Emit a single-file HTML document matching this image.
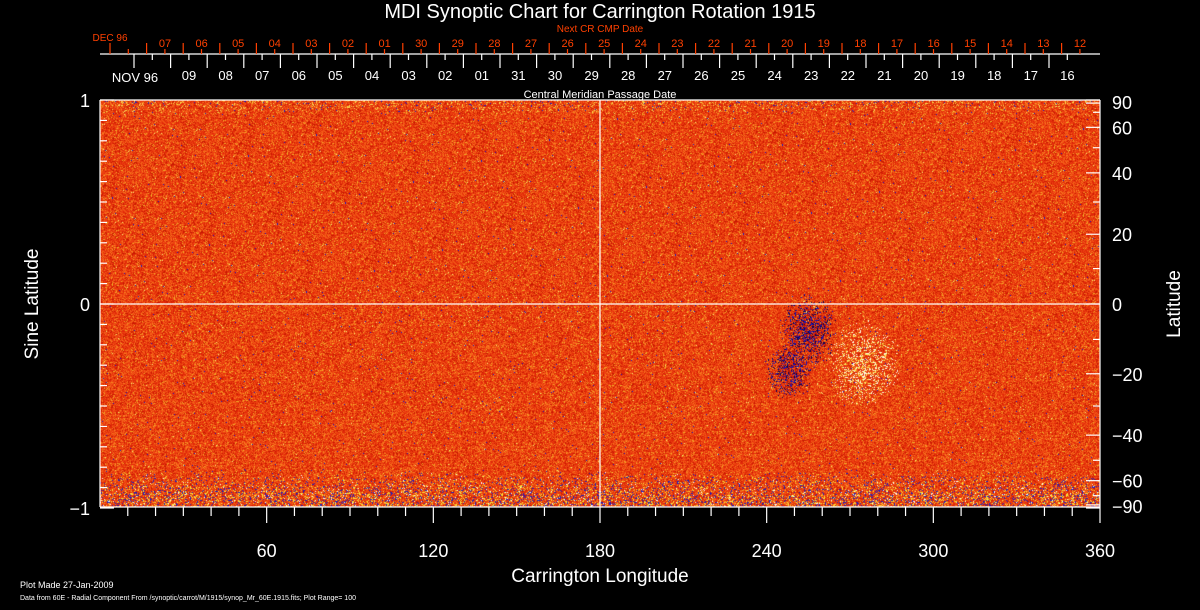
<!DOCTYPE html>
<html><head><meta charset="utf-8"><style>
html,body{margin:0;padding:0;background:#000;width:1200px;height:610px;overflow:hidden}
#wrap{position:relative;width:1200px;height:610px;font-family:"Liberation Sans",sans-serif}
canvas{position:absolute;left:100px;top:100px}
svg{position:absolute;left:0;top:0}
</style></head><body>
<div id="wrap">
<canvas id="map" width="1000" height="407"></canvas>
<svg id="ax" width="1200" height="610"></svg>
</div>
<script>
// data arrays
const lonTicks=[60,120,180,240,300,360];
const latTicks=[90,60,40,20,0,-20,-40,-60,-90];
const sineTicks=[1,0,-1];
const cmpLabels=["09","08","07","06","05","04","03","02","01","31","30","29","28","27","26","25","24","23","22","21","20","19","18","17","16"];
const nextLabels=["07","06","05","04","03","02","01","30","29","28","27","26","25","24","23","22","21","20","19","18","17","16","15","14","13","12"];
// active region: [lon, lat, radius(deg), polarity]
const regions=[[255,-8,11,-1],[248,-20,9,-1],[275,-18,14,1]];

const X0=100,X1=1100,Y0=100,YZ=304,YB=507;
const xLon=l=>X0+l*(X1-X0)/360;
const ySin=s=>YZ-s*(YZ-Y0);
const yLat=d=>ySin(Math.sin(d*Math.PI/180));

// map texture
(function(){
 const cv=document.getElementById('map');const c=cv.getContext('2d');
 let seed=12345;const rnd=()=>{seed=(seed*1103515245+12345)&0x7fffffff;return seed/0x7fffffff;};
 const W=1000,H=407;
 const img=c.createImageData(W,H);const D=img.data;
 const pal=[[236,64,16],[224,40,8],[244,96,24],[200,24,0],[248,128,32],[240,176,40]];
 for(let y=0;y<H;y++){
  const s=1-(y/(H-1))*2;
  const edgeB=s<-0.82?Math.min(1,(-s-0.82)/0.14):0;
  const edgeT=s>0.93?(s-0.93)/0.07:0;
  for(let x=0;x<W;x++){
   let r=rnd(),col;
   if(r<0.33)col=pal[0];else if(r<0.58)col=pal[1];else if(r<0.78)col=pal[2];else if(r<0.88)col=pal[3];else if(r<0.965)col=pal[4];else col=pal[5];
   const q=rnd();
   if(q<0.004)col=[20,20,200];else if(q<0.008)col=[250,240,120];
   if(edgeB>0){const e=rnd()/edgeB;if(e<0.12)col=[30,30,190];else if(e<0.24)col=[250,230,60];else if(e<0.27)col=[255,255,255];}
   if(edgeT>0){const e=rnd()/edgeT;if(e<0.12)col=[250,220,80];else if(e<0.15)col=[30,30,190];}
   const lon=(x/W)*360,lat=Math.asin(Math.max(-1,Math.min(1,s)))*180/Math.PI;
   for(const g of regions){const d=Math.hypot(lon-g[0],lat-g[1]);if(d<g[2]){const p=1-d/g[2];if(rnd()<p*0.45){col=g[3]<0?(rnd()<0.5?[0,0,90]:[20,20,190]):(rnd()<0.5?[250,240,100]:[255,255,230]);}else if(g[3]<0&&rnd()<p*0.5){col=[180,20,10];}}}
   const i=(y*W+x)*4;D[i]=col[0];D[i+1]=col[1];D[i+2]=col[2];D[i+3]=255;
  }
 }
 c.putImageData(img,0,0);
})();

const svg=document.getElementById('ax');const NS='http://www.w3.org/2000/svg';
function el(t,a,txt){const e=document.createElementNS(NS,t);for(const k in a)e.setAttribute(k,a[k]);if(txt!==undefined)e.textContent=txt;svg.appendChild(e);return e;}
function line(x1,y1,x2,y2,c){return el('line',{x1,y1,x2,y2,stroke:c||'#fff','stroke-width':1.2});}
function text(x,y,s,size,c,anchor,name){const t=el('text',{x,y,fill:c||'#fff','font-size':size,'text-anchor':anchor||'middle','font-family':'Liberation Sans, sans-serif'},s);

return t;}

// frame & grid
line(X0,Y0,X1,Y0);line(X0,YB,X1,YB);line(X0,Y0,X0,YB);line(X1,Y0,X1,YB);
line(xLon(180),Y0,xLon(180),YB);line(X0,YZ,X1,YZ);

// bottom longitude axis
for(let l=10;l<=360;l+=10){const x=xLon(l);line(x,YB,x,YB+(l%60===0?16:9));}
lonTicks.forEach(l=>text(xLon(l),557,String(l),18,'#fff','middle','lon-tick-label'));
text(600,582,'Carrington Longitude',19,'#fff','middle','x-axis-title');

// left sine axis
for(let s=-10;s<=10;s++){const y=ySin(s/10);line(X0,y,X0+(s%10===0?14:7),y);}
sineTicks.forEach(s=>text(90,ySin(s)+7,s<0?'\u22121':String(s),18,'#fff','end','sine-tick-label'));
const yt=text(0,0,'Sine Latitude',19,'#fff','middle','y-axis-title-left');yt.setAttribute('transform','translate(38,304) rotate(-90)');

// right latitude axis
for(let d=-90;d<=90;d+=10){const y=yLat(d);line(X1,y,X1-(d%20===0||Math.abs(d)===90?14:7),y);}
latTicks.forEach(d=>text(1112,yLat(d)+7+(d===90?2:d===-90?-2:0),d<0?'\u2212'+(-d):String(d),18,'#fff','start','lat-tick-label'));
const yr=text(0,0,'Latitude',19,'#fff','middle','y-axis-title-right');yr.setAttribute('transform','translate(1180,304) rotate(-90)');

// top date axes
line(X0,54,X1,54);
const step=36.6;
for(let i=0;i<27;i++){const x=110+i*step;line(x,43,x,54,'#ff4000');line(x+step/2,49,x+step/2,54,'#ff4000');}
nextLabels.forEach((s,i)=>text(165+i*step,47,s,11,'#ff4000','middle','next-cmp-date'));
text(110,41,'DEC 96',10,'#ff4000','middle','next-cmp-month');
text(600,32,'Next CR CMP Date',10,'#ff4000','middle','next-cmp-title');
for(let i=0;i<26;i++){const x=134+i*step;line(x,54,x,68);line(x+step/2,54,x+step/2,60);}
cmpLabels.forEach((s,i)=>text(189+i*step,80,s,13,'#fff','middle','cmp-date'));
text(135,82,'NOV 96',13,'#fff','middle','cmp-month');
text(600,98,'Central Meridian Passage Date',11,'#fff','middle','cmp-title');
text(600,18,'MDI Synoptic Chart for Carrington Rotation 1915',20,'#fff','middle','chart-title');
text(20,588,'Plot Made 27-Jan-2009',9,'#fff','start','plot-made');
text(20,600,'Data from 60E - Radial Component From /synoptic/carrot/M/1915/synop_Mr_60E.1915.fits; Plot Range=  100',7,'#fff','start','data-source');
</script>
</body></html>
